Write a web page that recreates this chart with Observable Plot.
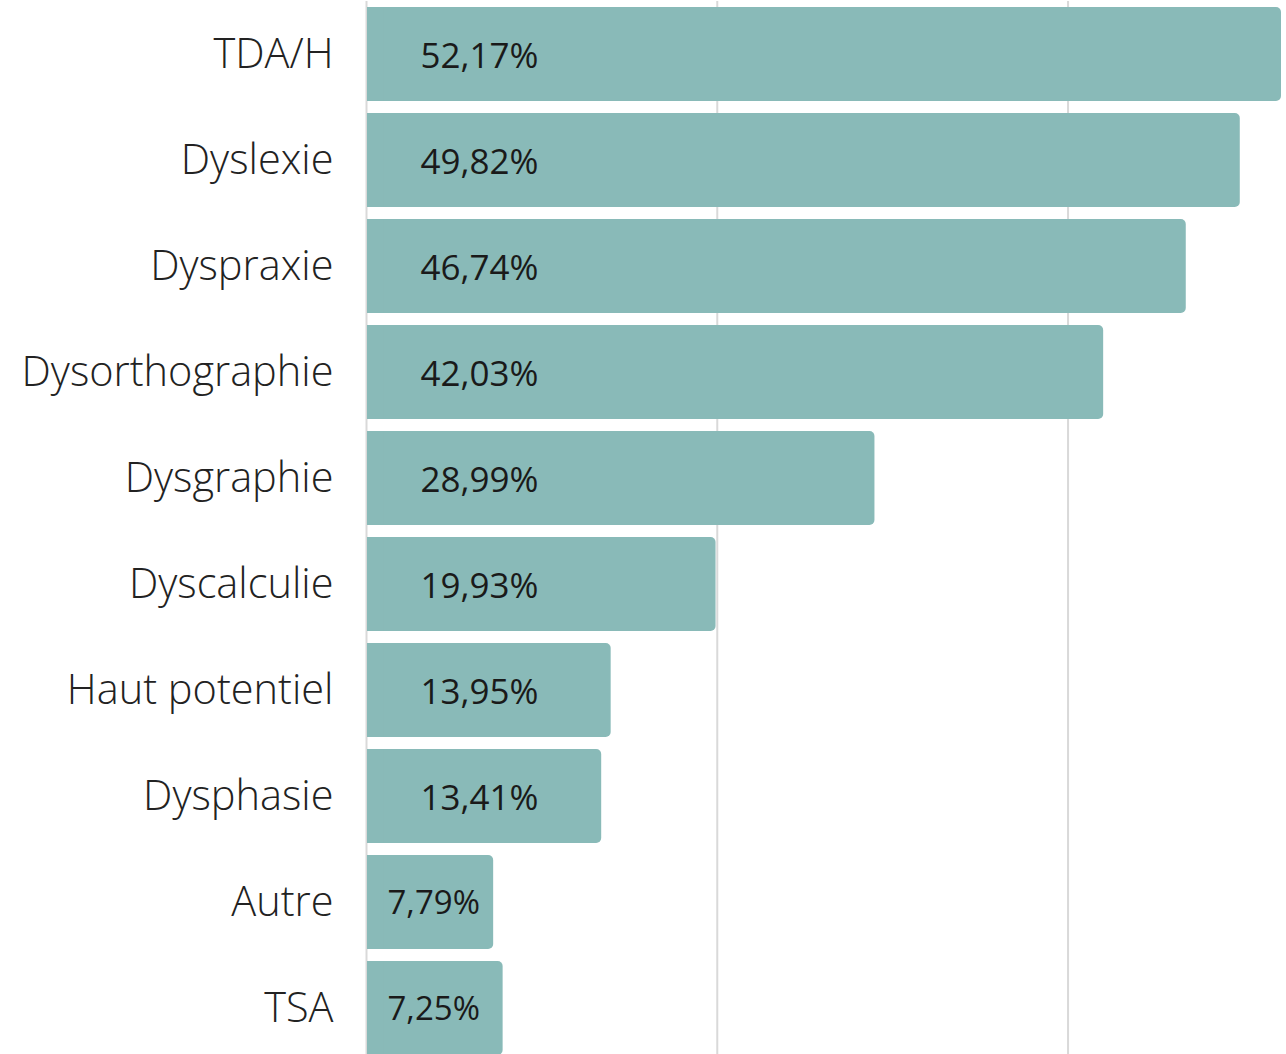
<!DOCTYPE html>
<html>
<head>
<meta charset="utf-8">
<script src="https://cdn.jsdelivr.net/npm/d3@7"></script>
<script src="https://cdn.jsdelivr.net/npm/@observablehq/plot@0.6"></script>
<style>
  html, body { margin: 0; padding: 0; background: #fff; overflow: hidden; }
  #chart svg { display: block; font-family: "Open Sans", sans-serif; }
</style>
</head>
<body>
<div id="chart"></div>
<script>
const categories = ["TDA/H", "Dyslexie", "Dyspraxie", "Dysorthographie", "Dysgraphie", "Dyscalculie", "Haut potentiel", "Dysphasie", "Autre", "TSA"];
// bar lengths as drawn in the reference (%)
const values = [52.17, 49.82, 46.74, 42.03, 28.99, 19.93, 13.95, 13.41, 7.25, 7.79];
// value labels as printed in the reference
const valueLabels = ["52,17%", "49,82%", "46,74%", "42,03%", "28,99%", "19,93%", "13,95%", "13,41%", "7,79%", "7,25%"];
const gridTicks = [0, 20, 40];

const data = categories.map((c, i) => ({category: c, value: values[i], label: valueLabels[i]}));

const chart = Plot.plot({
  width: 1286,
  height: 1062,
  marginTop: 1,
  marginBottom: 0,
  marginLeft: 366,
  marginRight: 5,
  x: {domain: [0, 52.17], axis: null},
  y: {domain: categories, axis: null, paddingInner: 0.113, paddingOuter: 0.057},
  marks: [
    Plot.ruleX(gridTicks, {stroke: "#d9d9d9", strokeWidth: 2}),
    Plot.barX(data, {y: "category", x1: 0, x2: "value", fill: "#89bab8", rx: 5, insetLeft: 1}),
    Plot.barX(data, {y: "category", x1: 0, x2: d => Math.min(d.value, 1), fill: "#89bab8", insetLeft: 1}),
    Plot.text(data, {
      y: "category", x: 0, text: "category", textAnchor: "end", dx: -33, dy: 0,
      fontSize: 41.5, fontWeight: 300, fill: "#222"
    }),
    Plot.text(data.filter(d => d.value >= 10), {
      y: "category", x: 0, text: "label", textAnchor: "start", dx: 54, dy: 2,
      fontSize: 35, fill: "#1a1a1a"
    }),
    Plot.text(data.filter(d => d.value < 10), {
      y: "category", x: 0, text: "label", textAnchor: "start", dx: 21, dy: 1,
      fontSize: 33, fill: "#1a1a1a"
    })
  ]
});
document.getElementById("chart").appendChild(chart);
</script>
</body>
</html>
